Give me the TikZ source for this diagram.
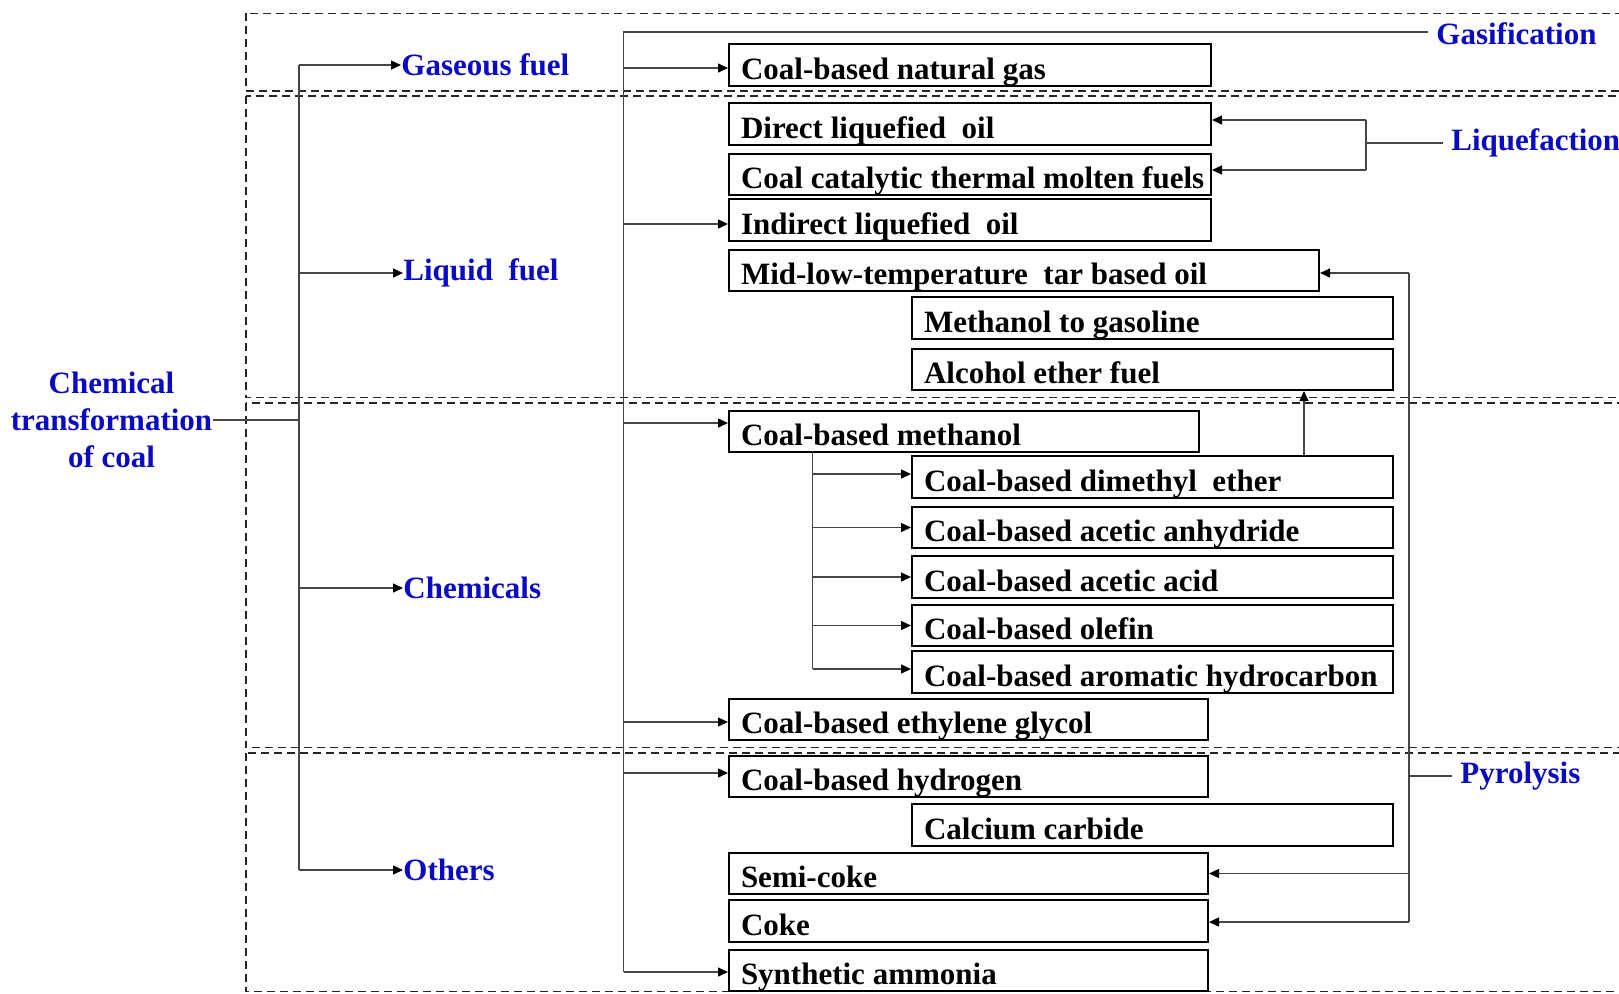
\documentclass[tikz,border=0pt]{standalone}
\usepackage{fontspec}
\setmainfont{Liberation Serif}
\usetikzlibrary{arrows.meta}
\definecolor{lblue}{RGB}{10,10,195}
\definecolor{cline}{RGB}{70,70,70}
\tikzset{
  box/.style={draw=black, line width=1pt, inner xsep=6pt, inner ysep=0pt, text height=16pt, text depth=2pt, font=\fontsize{15.5}{18}\selectfont\bfseries},
  lbl/.style={text=lblue, inner sep=0pt, font=\fontsize{15.5}{18}\selectfont\bfseries},
  conn/.style={draw=cline, line width=0.7pt},
  arr/.style={conn, -{Triangle[length=5pt,width=4.5pt,color=black]}},
  dsh/.style={draw=black!85, line width=0.9pt, dash pattern=on 4pt off 2.5pt}
}
\newcommand\wsp{\hspace{0.5em}}
\newcommand\bbox[6]{%
  \pgfmathsetmacro\bw{(#4-#2)*0.5-12}%
  \pgfmathsetmacro\bh{(#5-#3)*0.5}%
  \node[box, minimum height=\bh pt, anchor=north west] (#1) at (#2,#3) {\makebox[\bw pt][l]{#6}};
}
\begin{document}
\begin{tikzpicture}[x=0.5pt,y=-0.5pt]
\useasboundingbox (0,0) rectangle (1619,993);
\clip (0,0) rectangle (1619,993);
% dashed regions
\draw[dsh] (245.7,13.4) rectangle (1650,90.9);
\draw[dsh] (245.7,96) rectangle (1650,397.5);
\draw[dsh] (245.7,402.7) rectangle (1650,747.5);
\draw[dsh] (245.7,752.7) rectangle (1650,991.5);
% boxes
\bbox{ng}{728}{43}{1210}{85}{Coal-based natural gas}
\bbox{dlo}{728}{102}{1210}{144}{Direct liquefied\wsp oil}
\bbox{ctm}{728}{153}{1210}{194}{Coal catalytic thermal molten fuels}
\bbox{ilo}{728}{198}{1210}{240}{Indirect liquefied\wsp oil}
\bbox{mlt}{728}{249}{1318}{290}{Mid-low-temperature\wsp tar based oil}
\bbox{mtg}{911}{296}{1392}{338}{Methanol to gasoline}
\bbox{aef}{911}{348}{1392}{389}{Alcohol ether fuel}
\bbox{meth}{728}{410}{1198}{451}{Coal-based methanol}
\bbox{dme}{911}{455}{1392}{497}{Coal-based dimethyl\wsp ether}
\bbox{aan}{911}{506}{1392}{547}{Coal-based acetic anhydride}
\bbox{aac}{911}{555}{1392}{597}{Coal-based acetic acid}
\bbox{ole}{911}{604}{1392}{645}{Coal-based olefin}
\bbox{aro}{911}{650}{1392}{692}{Coal-based aromatic hydrocarbon}
\bbox{eg}{728}{698}{1207}{739}{Coal-based ethylene glycol}
\bbox{hy}{728}{755}{1207}{796}{Coal-based hydrogen}
\bbox{cc}{911}{803}{1392}{845}{Calcium carbide}
\bbox{sc}{728}{852}{1207}{893}{Semi-coke}
\bbox{ck}{728}{899}{1207}{941}{Coke}
\bbox{nh}{728}{949}{1207}{990}{Synthetic ammonia}
% left labels
\node[lbl, align=center, font=\fontsize{15.5}{18.5}\selectfont\bfseries] (ct) at (111.5,420) {Chemical\\transformation\\of coal};
\node[lbl, anchor=west] (gf) at (401,65) {Gaseous fuel};
\node[lbl, anchor=west] (lf) at (403,273) {Liquid\wsp fuel};
\node[lbl, anchor=west] (ch) at (403,588) {Chemicals};
\node[lbl, anchor=west] (ot) at (403,870) {Others};
\node[lbl, anchor=west] (gs) at (1436,34) {Gasification};
\node[lbl, anchor=west] (lq) at (1451,143) {Liquefaction};
\node[lbl, anchor=west] (py) at (1460,776) {Pyrolysis};
% trunk 1
\coordinate (t1a) at (299,65);
\coordinate (t1b) at (299,870);
\draw[conn] (ct.east) -- (ct.east -| t1a);
\draw[conn] (t1a) -- (t1b);
\draw[arr] (t1a) -- (gf.west);
\draw[arr] (t1a |- lf.west) -- (lf.west);
\draw[arr] (t1a |- ch.west) -- (ch.west);
\draw[arr] (t1b) -- (ot.west);
% trunk 2 (gasification)
\coordinate (t2a) at (623.6,32);
\coordinate (t2b) at (623.6,972);
\draw[conn] ([xshift=-4pt]gs.west |- t2a) -- (t2a) -- (t2b);
\draw[arr] (t2a |- 0,68) -- (ng.west |- 0,68);
\draw[arr] (t2a |- 0,224) -- (ilo.west |- 0,224);
\draw[arr] (t2a |- 0,423) -- (meth.west |- 0,423);
\draw[arr] (t2a |- 0,722) -- (eg.west |- 0,722);
\draw[arr] (t2a |- 0,773) -- (hy.west |- 0,773);
\draw[arr] (t2b) -- (nh.west |- t2b);
% liquefaction
\coordinate (lqa) at (1366,120);
\coordinate (lqb) at (1366,170);
\draw[conn] (lqa) -- (lqb);
\draw[arr] (lqa) -- (dlo.east |- lqa);
\draw[arr] (lqb) -- (ctm.east |- lqb);
\draw[conn] (1366,143) -- ([xshift=-4pt]lq.west);
% pyrolysis
\coordinate (pya) at (1409,273);
\coordinate (pyb) at (1409,922);
\draw[conn] (pya) -- (pyb);
\draw[arr] (pya) -- (mlt.east |- pya);
\draw[arr] (1409,873.5) -- (sc.east |- 0,873.5);
\draw[arr] (pyb) -- (ck.east |- pyb);
\draw[conn] (1409,776) -- ([xshift=-4pt]py.west);
% methanol subtree
\coordinate (ma) at (812.6,451);
\coordinate (mb) at (812.6,669);
\draw[conn] (ma) -- (mb);
\draw[arr] (ma |- 0,474) -- (dme.west |- 0,474);
\draw[arr] (ma |- aan.west) -- (aan.west);
\draw[arr] (ma |- aac.west) -- (aac.west);
\draw[arr] (ma |- ole.west) -- (ole.west);
\draw[arr] (mb) -- (aro.west |- mb);
% DME to alcohol ether fuel
\draw[arr] (dme.north -| 1304,0) -- (aef.south -| 1304,0);
\end{tikzpicture}
\end{document}
